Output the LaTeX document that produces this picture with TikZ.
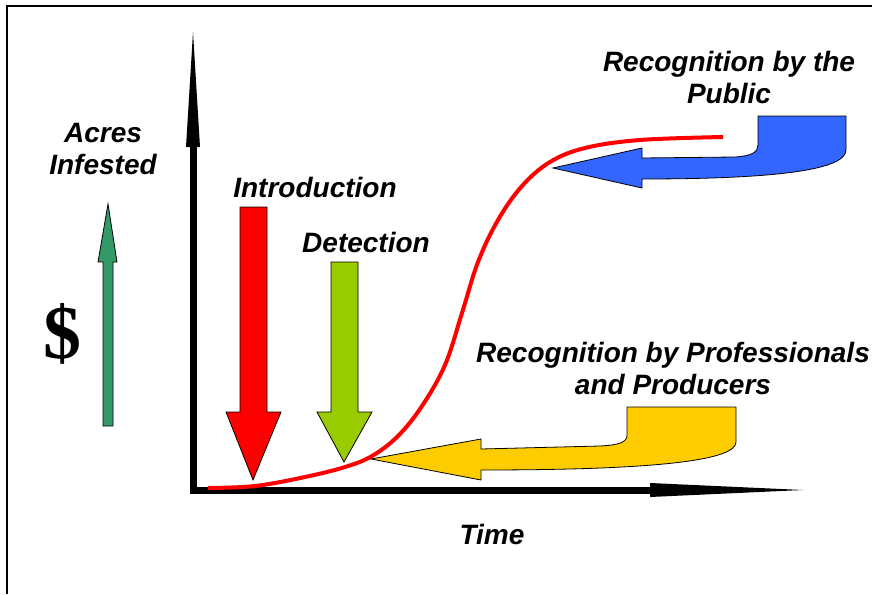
\documentclass[tikz,border=0pt]{standalone}
\usepackage{fontspec}
\setmainfont{Liberation Sans}
\newfontfamily\dollarfont{Liberation Serif}
\usepackage{xcolor}
\usepackage{tikz}

\definecolor{introred}{HTML}{FF0000}
\definecolor{detectgreen}{HTML}{99CC00}
\definecolor{moneygreen}{HTML}{339966}
\definecolor{publicblue}{HTML}{3366FF}
\definecolor{proyellow}{HTML}{FFCC00}

\begin{document}
\begin{tikzpicture}[x=1pt, y=-1pt,
    txt/.style={font=\fontsize{28}{32}\selectfont\bfseries\itshape, align=center},
    block/.style={draw=black, line width=0.8pt, line join=miter},
    growth/.style={introred, line width=4pt}]
    \useasboundingbox (0,0) rectangle (872,594);
    \draw[line width=2pt] (7,594) -- (7,6) -- (872,6);

    % axes
    \coordinate (O) at (193,490);
    \coordinate (ytop) at (193,32);
    \coordinate (xend) at (803,490);
    \draw[line width=7pt] (193,147) -- (O) -- (650,490);
    \fill (186,147) -- (ytop) -- (200,147) -- cycle;
    \fill (650,483) -- (xend) -- (650,497) -- cycle;

    % curve
    \draw[growth] plot[smooth, tension=0.6] coordinates {
        (208,488) (255,486) (305,477) (345,467) (372,456) (398,436)
        (422,406) (445,365) (462,313) (478,262) (498,220) (522,186)
        (550,162) (585,148) (640,140) (723,137)};

    % block arrows
    \draw[block, fill=introred] (240,207) -- (267,207) -- (267,412) -- (281,412)
        -- (253,480) -- (226,412) -- (240,412) -- cycle;
    \draw[block, fill=detectgreen] (331,262) -- (358,262) -- (358,412) -- (372,412)
        -- (344,462) -- (317,412) -- (331,412) -- cycle;
    \draw[block, fill=moneygreen] (103,426) -- (103,262) -- (98,262) -- (108,204)
        -- (117,262) -- (113,262) -- (113,426) -- cycle;
    \draw[block, fill=publicblue] (553,168) -- (642,148) -- (642,158) -- (735,157)
        .. controls (752,156) and (758,152) .. (758,145) -- (758,116) -- (846,116)
        -- (846,150) .. controls (846,172) and (760,179) .. (642,179) -- (642,188) -- cycle;
    \draw[block, fill=proyellow] (371,459) -- (481,439) -- (481,449) -- (600,446)
        .. controls (620,445) and (627,442) .. (627,435) -- (627,407) -- (736,407)
        -- (736,442) .. controls (736,460) and (660,470) .. (481,470) -- (481,480) -- cycle;

    % labels
    \node[txt] (acres) at (103,149) {Acres\\Infested};
    \node[font=\dollarfont\bfseries\fontsize{76}{76}\selectfont] (dollar) at (62,334) {\$};
    \node[txt] (intro) at (315,187) {Introduction};
    \node[txt] (detect) at (366,242) {Detection};
    \node[txt] (public) at (729,77) {Recognition by the\\Public};
    \node[txt] (pros) at (673,368) {Recognition by Professionals\\and Producers};
    \node[txt] (time) at (492,534) {Time};
\end{tikzpicture}
\end{document}
